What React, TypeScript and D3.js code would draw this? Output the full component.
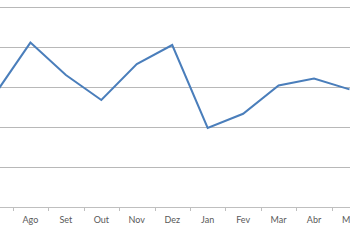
import React from "react";
import * as d3 from "d3";

const categories = ["Jul", "Ago", "Set", "Out", "Nov", "Dez", "Jan", "Fev", "Mar", "Abr", "Mai"];
const values = [2.82, 4.11, 3.3, 2.675, 3.575, 4.05, 1.975, 2.33, 3.04, 3.21, 2.94];
const gridTicks = [0, 1, 2, 3, 4, 5];

export default function App() {
  React.useEffect(() => {
    document.body.style.margin = "0";
  }, []);
  const W = 350;
  const H = 250;
  const step = 35.45;
  const x0 = -22.75;
  const x = d3
    .scaleBand<string>()
    .domain(categories)
    .range([x0, x0 + step * categories.length])
    .paddingInner(0)
    .paddingOuter(0);
  const y = d3.scaleLinear().domain([0, 5]).range([207, 7]);
  const cx = (c: string) => (x(c) as number) + x.bandwidth() / 2;
  const line = d3
    .line<number>()
    .x((_, i) => cx(categories[i]))
    .y((d) => y(d));
  const boundaries = categories
    .map((c) => x(c) as number)
    .concat([(x(categories[categories.length - 1]) as number) + x.bandwidth()]);

  return (
    <svg width={W} height={H} style={{ position: "absolute", left: 0, top: 0, display: "block" }}>
      <rect x={0} y={0} width={W} height={H} fill="#ffffff" />
      {gridTicks.slice(1).map((t) => (
        <line key={t} x1={0} x2={W} y1={Math.round(y(t)) + 0.5} y2={Math.round(y(t)) + 0.5} stroke="#b8b8b8" strokeWidth={1} />
      ))}
      <line x1={0} x2={W} y1={Math.round(y(0)) + 0.5} y2={Math.round(y(0)) + 0.5} stroke="#bfbfbf" strokeWidth={1} />
      {boundaries.map((b, i) => (
        <line key={i} x1={Math.round(b) + 0.5} x2={Math.round(b) + 0.5} y1={207} y2={211} stroke="#bfbfbf" strokeWidth={1} />
      ))}
      {categories
        .filter((c) => cx(c) > 0)
        .map((c) => (
          <text
            key={c}
            x={cx(c)}
            y={222.5}
            textAnchor="middle"
            fontFamily="Lato, 'Open Sans', sans-serif"
            fontSize={9}
            fill="#595959"
          >
            {c}
          </text>
        ))}
      <path d={line(values) || ""} fill="none" stroke="#4a7ebb" strokeWidth={2} strokeLinejoin="miter" />
    </svg>
  );
}
